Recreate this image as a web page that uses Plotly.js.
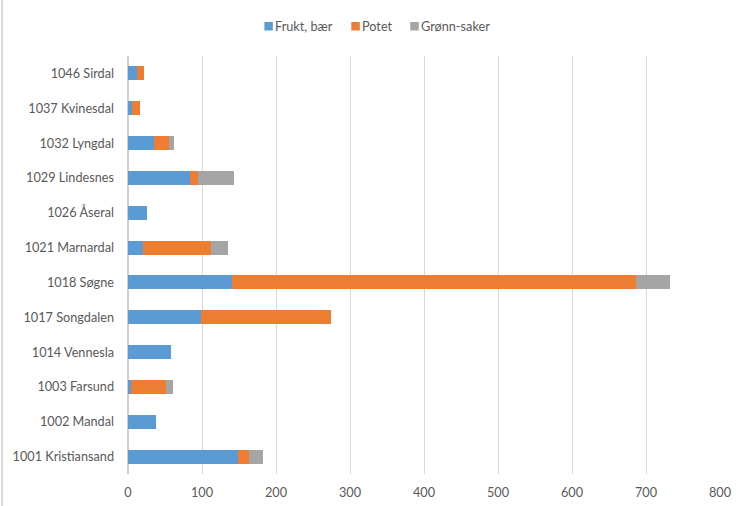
<!DOCTYPE html>
<html><head><meta charset="utf-8">
<script src="https://cdn.plot.ly/plotly-3.0.1.min.js"></script>
<style>html,body{margin:0;padding:0;background:#fff}#c{width:745px;height:506px}</style>
</head><body><div id="c"></div>
<script>
const categories = ["1001 Kristiansand","1002 Mandal","1003 Farsund","1014 Vennesla","1017 Songdalen","1018 Søgne","1021 Marnardal","1026 Åseral","1029 Lindesnes","1032 Lyngdal","1037 Kvinesdal","1046 Sirdal"];
const fruktBaer = [148, 38, 4, 58, 98, 141, 20, 25, 84, 35, 6, 12];
const potet     = [15, 0, 47, 0, 176, 546, 92, 0, 11, 21, 10, 10];
const gronnsaker= [19, 0, 10, 0, 0, 46, 23, 0, 48, 6, 0, 0];
const seriesNames = ["Frukt, bær","Potet","Grønn-saker"];
const colors = ["#5B9BD5","#ED7D31","#A5A5A5"];
const vals = [fruktBaer, potet, gronnsaker];

const W = 745, H = 506, ML = 127.5, MR = 25, MT = 56, MB = 32;
const PW = W - ML - MR, PH = H - MT - MB;
const px = x => (x - ML) / PW;
const py = y => (H - MB - y) / PH;

const traces = vals.map((v,i)=>({type:'bar',orientation:'h',name:seriesNames[i],x:v,y:categories,marker:{color:colors[i]},showlegend:false}));

// custom legend (Excel-like compact squares)
const legendX = [264, 351, 410];
const shapes = [{type:'line',xref:'paper',yref:'paper',x0:px(1.5),x1:px(1.5),y0:py(H),y1:py(0),line:{color:'#d9d9d9',width:2}}];
const annotations = [];
seriesNames.forEach((n,i)=>{
  shapes.push({type:'rect',xref:'paper',yref:'paper',x0:px(legendX[i]),x1:px(legendX[i]+8.5),y0:py(30.5),y1:py(22),fillcolor:colors[i],line:{width:0}});
  annotations.push({xref:'paper',yref:'paper',x:px(legendX[i]+9),y:py(26.3),xanchor:'left',yanchor:'middle',showarrow:false,text:n,font:{size:12.7,color:'#595959'}});
});

const layout = {
  width:W,height:H,barmode:'stack',bargap:0.6,
  margin:{l:ML,r:MR,t:MT,b:MB},
  paper_bgcolor:'#fff',plot_bgcolor:'#fff',
  font:{family:'Lato, "Open Sans", sans-serif',size:12.7,color:'#595959'},
  xaxis:{range:[0,800],dtick:100,showgrid:true,gridcolor:'#d9d9d9',gridwidth:1,zeroline:true,zerolinecolor:'#cfcfcf',zerolinewidth:1.5,ticks:'',ticklabelstandoff:9,tickfont:{size:12.7,color:'#595959'}},
  yaxis:{type:'category',ticks:'',ticklen:0,ticklabelstandoff:13,automargin:false,tickfont:{size:12.7,color:'#595959'},showline:false},
  showlegend:false,
  shapes:shapes,
  annotations:annotations
};
Plotly.newPlot('c',traces,layout,{displayModeBar:false,staticPlot:true});
</script></body></html>
